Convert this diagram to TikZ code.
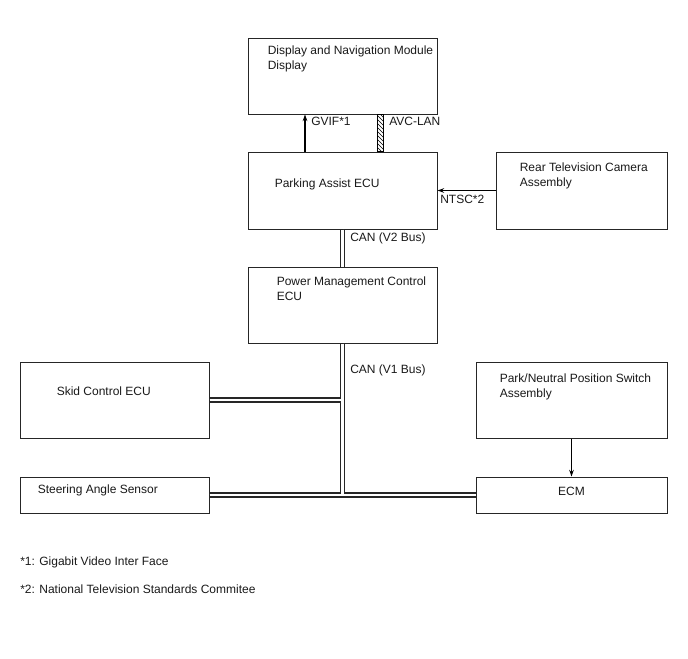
\documentclass[tikz,border=0pt]{standalone}
\usepackage{fontspec}
\setmainfont{Liberation Sans}
\usetikzlibrary{arrows.meta,patterns,calc}

\tikzset{
  unit/.style={draw=black!85, line width=0.75pt, inner sep=0pt},
  txt/.style={anchor=north west, inner sep=0pt, align=left, text=black!90, font=\fontsize{9}{11}\selectfont},
  sig/.style={line width=0.8pt, -{Stealth[length=5pt,width=3.5pt]}},
  busouter/.style={black!85, line width=3.8pt},
  businner/.style={white, line width=2pt},
}

\begin{document}
\begin{tikzpicture}[x=0.75pt, y=-0.75pt]
    \useasboundingbox (0,0) rectangle (688,658);

    % Units
    \node[unit, minimum width=141.75pt, minimum height=57pt]    (disp) at (342.5,76) {};
    \node[unit, minimum width=141.75pt, minimum height=57.75pt] (park) at (342.5,190.5) {};
    \node[unit, minimum width=128.25pt, minimum height=57.75pt] (rear) at (581.5,190.5) {};
    \node[unit, minimum width=141.75pt, minimum height=57pt]    (pmc)  at (342.5,305) {};
    \node[unit, minimum width=141.75pt, minimum height=57pt]    (skid) at (114.5,400) {};
    \node[unit, minimum width=141.75pt, minimum height=27pt]    (steer) at (114.5,495) {};
    \node[unit, minimum width=143.25pt, minimum height=57pt]    (pns)  at (571.5,400) {};
    \node[unit, minimum width=143.25pt, minimum height=27pt]    (ecm)  at (571.5,495) {};

    % Unit names
    \node[txt] (disptxt)  at ($(disp.north west)+(20,8)$)  {Display and Navigation Module\\Display};
    \node[txt] (parktxt)  at ($(park.north west)+(27,27)$) {Parking Assist ECU};
    \node[txt] (reartxt)  at ($(rear.north west)+(24,11)$) {Rear Television Camera\\Assembly};
    \node[txt] (pmctxt)   at ($(pmc.north west)+(29,10)$)  {Power Management Control\\ECU};
    \node[txt] (skidtxt)  at ($(skid.north west)+(37,25)$) {Skid Control ECU};
    \node[txt] (steertxt) at ($(steer.north west)+(18,8)$) {Steering Angle Sensor};
    \node[txt] (pnstxt)   at ($(pns.north west)+(24,12)$)  {Park/Neutral Position Switch\\Assembly};
    \node[txt, anchor=center] (ecmtxt) at ($(ecm.center)+(0,-4)$) {ECM};

    % Signal lines
    \draw[sig] ($(park.north)+(-37.5,0)$) -- ($(disp.south)+(-37.5,0)$);
    \draw[line width=0.5pt, pattern=north west lines] ($(disp.south)+(34.5,0)$) rectangle ($(park.north)+(40.5,0)$);
    \draw[sig] (rear.west) -- (park.east);
    \draw[sig] (pns.south) -- (ecm.north);

    % CAN buses
    \foreach \s in {busouter,businner} {
        \draw[\s] (park.south) -- (pmc.north);
        \draw[\s] (pmc.south) -- (pmc.south |- steer.east);
        \draw[\s] (skid.east) -- (skid.east -| pmc.south);
        \draw[\s] (steer.east) -- (ecm.west);
    }

    % Labels
    \node[txt] (gviflbl) at (311,117) {GVIF*1};
    \node[txt] (avclbl)  at (389,117) {AVC-LAN};
    \node[txt] (ntsclbl) at (440,195) {NTSC*2};
    \node[txt] (v2lbl)   at (350,233) {CAN (V2 Bus)};
    \node[txt] (v1lbl)   at (350,365) {CAN (V1 Bus)};

    % Notes
    \node[txt] (note1) at (20,557) {*1: Gigabit Video Inter Face};
    \node[txt] (note2) at (20,585) {*2: National Television Standards Commitee};
\end{tikzpicture}
\end{document}
